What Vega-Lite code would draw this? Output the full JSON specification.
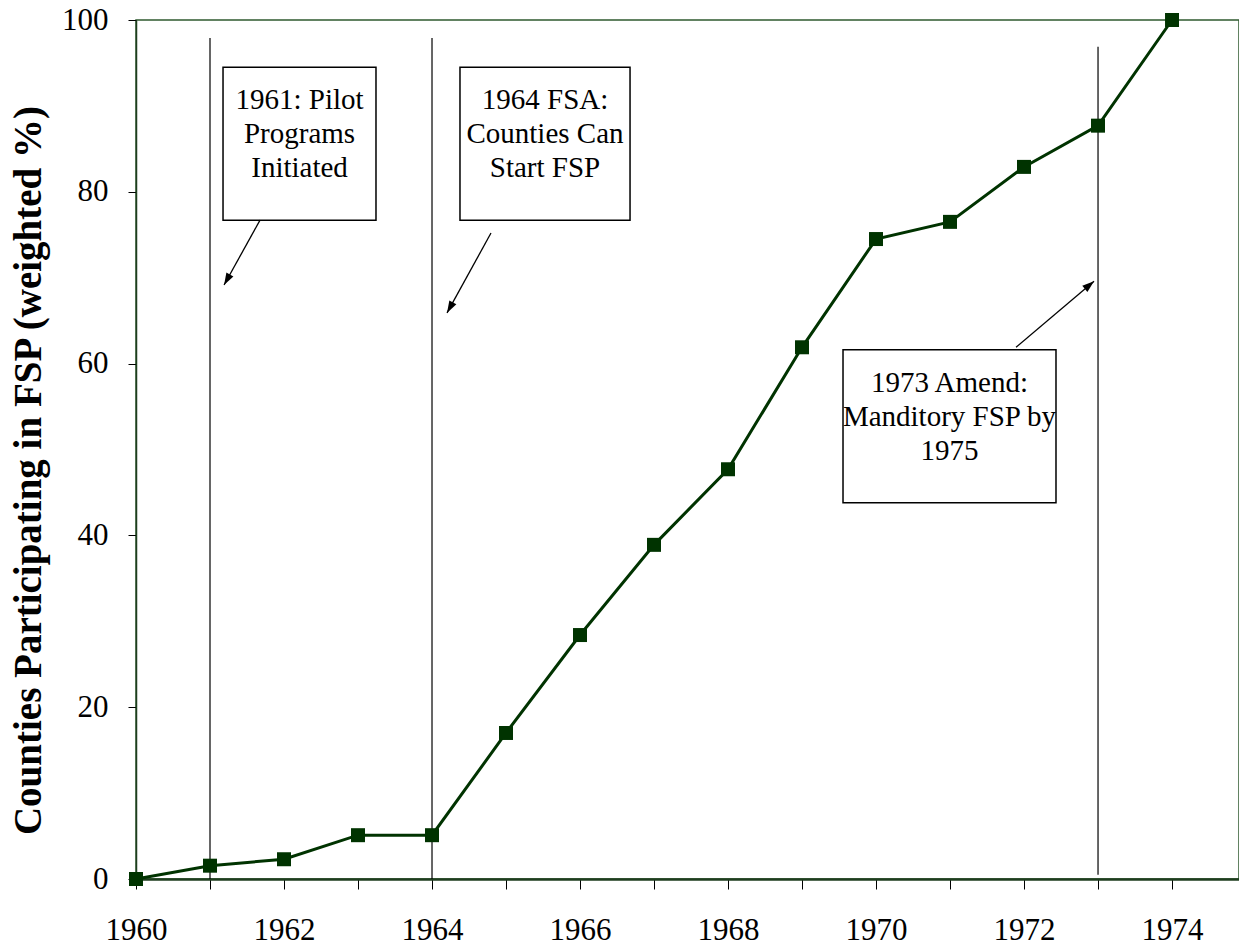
{
  "$schema": "https://vega.github.io/schema/vega-lite/v6.json",
  "autosize": {"type": "none"},
  "width": 1103,
  "height": 859,
  "padding": {"left": 136, "top": 20, "right": 0, "bottom": 70},
  "background": "white",
  "config": {
    "view": {"stroke": "#2f5a2f", "strokeWidth": 1.5},
    "font": "Liberation Serif",
    "axis": {"grid": false, "domainColor": "#000000", "tickColor": "#000000", "labelColor": "#000000", "titleColor": "#000000", "labelFont": "Liberation Serif", "titleFont": "Liberation Serif"}
  },
  "datasets": {
    "series": [
      {"year": 1960, "pct": 0},
      {"year": 1961, "pct": 1.55},
      {"year": 1962, "pct": 2.3},
      {"year": 1963, "pct": 5.1},
      {"year": 1964, "pct": 5.1},
      {"year": 1965, "pct": 17.0},
      {"year": 1966, "pct": 28.4},
      {"year": 1967, "pct": 38.9},
      {"year": 1968, "pct": 47.7},
      {"year": 1969, "pct": 61.9},
      {"year": 1970, "pct": 74.5},
      {"year": 1971, "pct": 76.5},
      {"year": 1972, "pct": 82.9},
      {"year": 1973, "pct": 87.7},
      {"year": 1974, "pct": 100}
    ],
    "vlines": [
      {"year": 1961, "y0": 0, "y1": 97.9},
      {"year": 1964, "y0": 0, "y1": 97.9},
      {"year": 1973, "y0": 0.5, "y1": 96.9}
    ],
    "boxes": [
      {"id": "a", "x0": 1961.176, "x1": 1963.243, "y0": 76.7, "y1": 94.5, "xc": 1962.21, "yt": 92.3, "label": ["1961: Pilot", "Programs", "Initiated"]},
      {"id": "b", "x0": 1964.378, "x1": 1966.676, "y0": 76.7, "y1": 94.5, "xc": 1965.527, "yt": 92.3, "label": ["1964 FSA:", "Counties Can", "Start FSP"]},
      {"id": "c", "x0": 1969.554, "x1": 1972.432, "y0": 43.8, "y1": 61.6, "xc": 1970.993, "yt": 59.4, "label": ["1973 Amend:", "Manditory FSP by", "1975"]}
    ],
    "arrows": [
      {"id": "a", "xs": 1961.676, "ys": 76.7, "xe": 1961.19, "ye": 69.15},
      {"id": "b", "xs": 1964.797, "ys": 75.2, "xe": 1964.203, "ye": 65.9},
      {"id": "c", "xs": 1971.892, "ys": 61.9, "xe": 1972.946, "ye": 69.6}
    ]
  },
  "layer": [
    {
      "data": {"name": "vlines"},
      "mark": {"type": "rule", "color": "#000000", "strokeWidth": 1.2},
      "encoding": {
        "x": {"field": "year", "type": "quantitative", "scale": {"domain": [1960, 1974.905], "nice": false, "zero": false},
          "axis": {"values": [1960, 1961, 1962, 1963, 1964, 1965, 1966, 1967, 1968, 1969, 1970, 1971, 1972, 1973, 1974], "format": "d",
            "labelExpr": "datum.value % 2 == 0 ? datum.label : ''", "labelFlush": false, "labelOverlap": false, "tickSize": 10, "labelPadding": 26, "labelFontSize": 31, "title": null, "domainColor": "#1e3d1e", "domainWidth": 2.5}},
        "y": {"field": "y0", "type": "quantitative", "scale": {"domain": [0, 100], "nice": false},
          "axis": {"values": [0, 20, 40, 60, 80, 100], "tickSize": 8, "labelPadding": 20, "labelFontSize": 31, "labelFlush": false,
            "title": "Counties Participating in FSP (weighted %)", "titleFontSize": 39, "titleFontWeight": "bold", "titlePadding": 13, "titleY": 450, "domainColor": "#1e3d1e", "domainWidth": 1.5}},
        "y2": {"field": "y1"}
      }
    },
    {
      "data": {"name": "boxes"},
      "mark": {"type": "rect", "fill": "white", "stroke": "#000000", "strokeWidth": 1.5},
      "encoding": {
        "x": {"field": "x0", "type": "quantitative"},
        "x2": {"field": "x1"},
        "y": {"field": "y0", "type": "quantitative"},
        "y2": {"field": "y1"}
      }
    },
    {
      "data": {"name": "boxes"},
      "mark": {"type": "text", "font": "Liberation Serif", "fontSize": 29, "lineHeight": 34, "baseline": "top", "align": "center", "color": "#000000"},
      "encoding": {
        "x": {"field": "xc", "type": "quantitative"},
        "y": {"field": "yt", "type": "quantitative"},
        "text": {"field": "label"}
      }
    },
    {
      "data": {"name": "arrows"},
      "mark": {"type": "rule", "color": "#000000", "strokeWidth": 1.3},
      "encoding": {
        "x": {"field": "xs", "type": "quantitative"},
        "y": {"field": "ys", "type": "quantitative"},
        "x2": {"field": "xe"},
        "y2": {"field": "ye"}
      }
    },
    {
      "data": {"name": "arrows"},
      "transform": [{"filter": "datum.id != 'c'"}],
      "mark": {"type": "point", "shape": "M0,0L0.4,1.2L-0.4,1.2Z", "size": 400, "filled": true, "color": "#000000", "opacity": 1, "angle": 209},
      "encoding": {
        "x": {"field": "xe", "type": "quantitative"},
        "y": {"field": "ye", "type": "quantitative"}
      }
    },
    {
      "data": {"name": "arrows"},
      "transform": [{"filter": "datum.id == 'c'"}],
      "mark": {"type": "point", "shape": "M0,0L0.4,1.2L-0.4,1.2Z", "size": 400, "filled": true, "color": "#000000", "opacity": 1, "angle": 50},
      "encoding": {
        "x": {"field": "xe", "type": "quantitative"},
        "y": {"field": "ye", "type": "quantitative"}
      }
    },
    {
      "data": {"name": "series"},
      "mark": {"type": "line", "color": "#003300", "strokeWidth": 3},
      "encoding": {
        "x": {"field": "year", "type": "quantitative"},
        "y": {"field": "pct", "type": "quantitative"}
      }
    },
    {
      "data": {"name": "series"},
      "mark": {"type": "point", "shape": "square", "size": 196, "filled": true, "color": "#003300", "opacity": 1},
      "encoding": {
        "x": {"field": "year", "type": "quantitative"},
        "y": {"field": "pct", "type": "quantitative"}
      }
    }
  ]
}
